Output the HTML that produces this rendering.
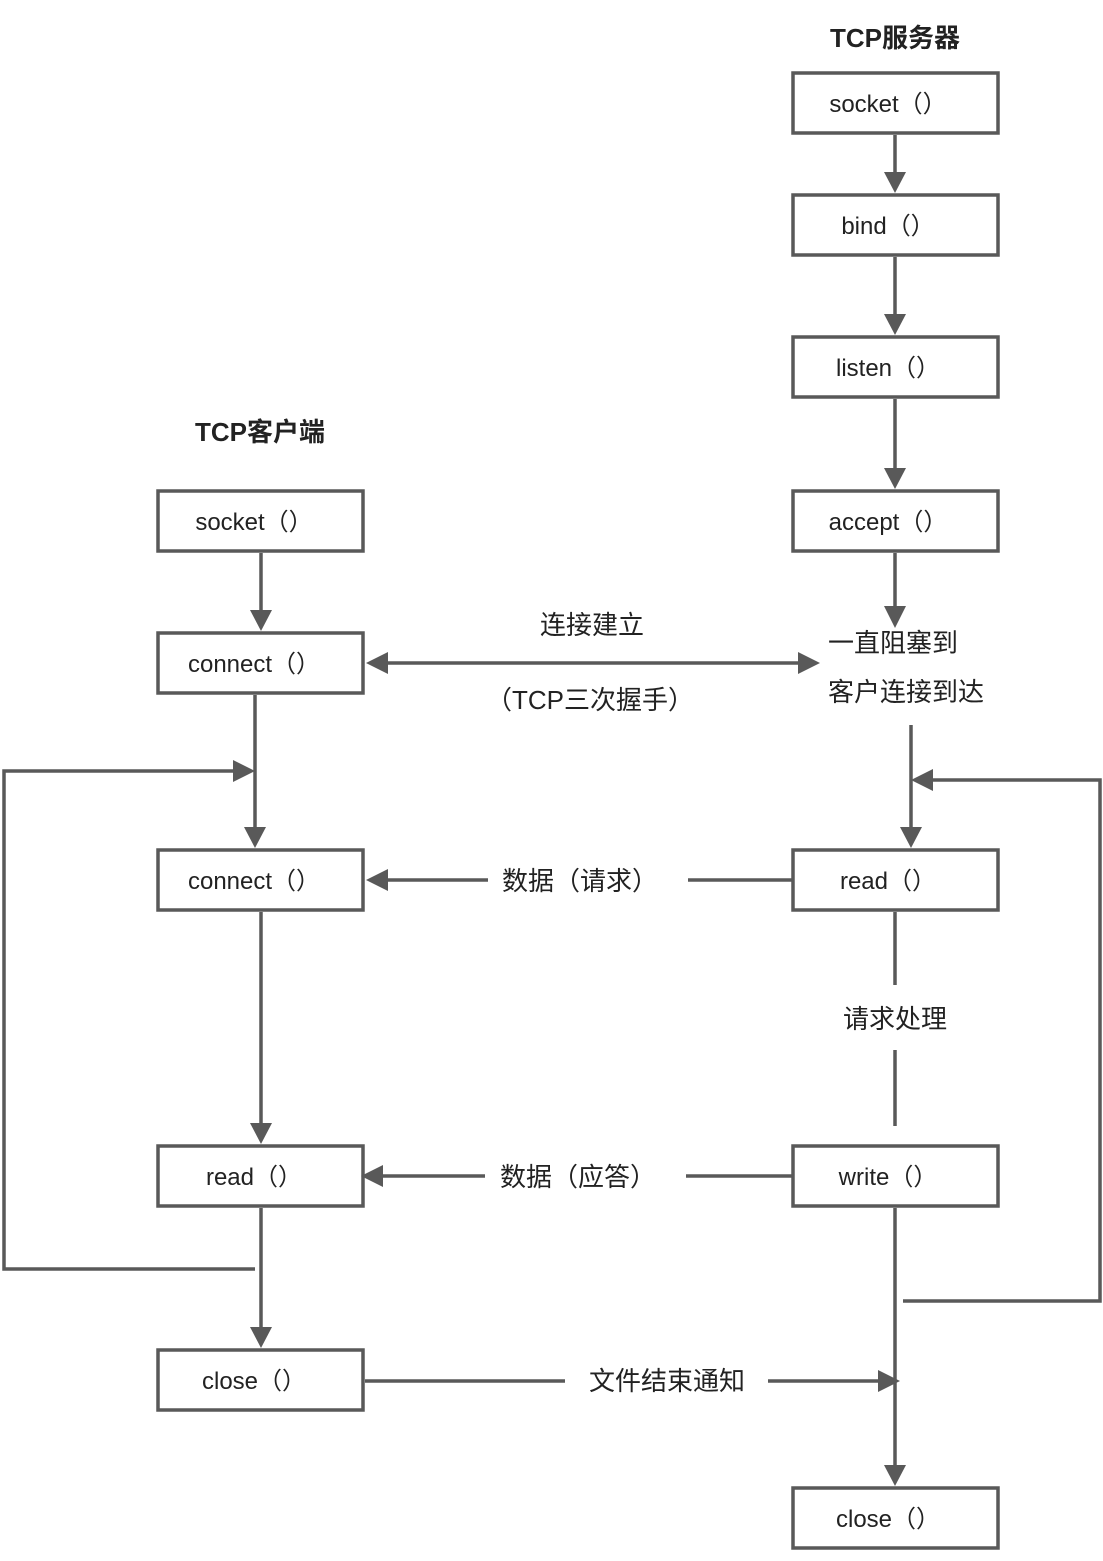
<!DOCTYPE html>
<html><head><meta charset="utf-8"><style>
body{margin:0;background:#fff}
svg text{font-family:"Liberation Sans","Noto Sans CJK SC",sans-serif;fill:#222}
</style></head><body>
<svg width="1103" height="1556" viewBox="0 0 1103 1556" xmlns="http://www.w3.org/2000/svg">
<defs>
<marker id="a" markerWidth="8" markerHeight="8" refX="7" refY="4" orient="auto" markerUnits="userSpaceOnUse" viewBox="0 0 8 8" style="overflow:visible">
<path d="M-14,-7 L7,4 L-14,15 Z" fill="#595959" transform="translate(0,0)"/>
</marker>
</defs>
<g fill="#fff" stroke="#595959" stroke-width="3.5">
<rect x="793" y="73" width="205" height="60"/>
<rect x="793" y="195" width="205" height="60"/>
<rect x="793" y="337" width="205" height="60"/>
<rect x="793" y="491" width="205" height="60"/>
<rect x="793" y="850" width="205" height="60"/>
<rect x="793" y="1146" width="205" height="60"/>
<rect x="793" y="1488" width="205" height="60"/>
<rect x="158" y="491" width="205" height="60"/>
<rect x="158" y="633" width="205" height="60"/>
<rect x="158" y="850" width="205" height="60"/>
<rect x="158" y="1146" width="205" height="60"/>
<rect x="158" y="1350" width="205" height="60"/>
</g>
<g stroke="#595959" stroke-width="3.5" fill="none">
<path d="M895 135V175M895 257V317M895 399V471M895 553V608M911 725V830M895 1208V1468M261 553V613M255 695V830M261 912V1126M261 1208V1330"/>
<path d="M903 1301H1100V780H931"/>
<path d="M255 1269H4V771H235"/>
<path d="M385 663H800"/>
<path d="M793 880H688M488 880H385"/>
<path d="M793 1176H686M485 1176H380"/>
<path d="M895 912V985M895 1050V1126"/>
<path d="M365 1381H565M768 1381H880"/>
</g>
<g fill="#595959">
<path d="M884 172L906 172L895 193Z"/>
<path d="M884 314L906 314L895 335Z"/>
<path d="M884 468L906 468L895 489Z"/>
<path d="M884 606L906 606L895 628Z"/>
<path d="M900 827L922 827L911 848Z"/>
<path d="M884 1465L906 1465L895 1486Z"/>
<path d="M250 610L272 610L261 631Z"/>
<path d="M244 827L266 827L255 848Z"/>
<path d="M250 1123L272 1123L261 1144Z"/>
<path d="M250 1327L272 1327L261 1348Z"/>
<path d="M911 780L933 769L933 791Z"/>
<path d="M255 771L233 760L233 782Z"/>
<path d="M366 663L388 652L388 674Z"/>
<path d="M820 663L798 652L798 674Z"/>
<path d="M366 880L388 869L388 891Z"/>
<path d="M361 1176L383 1165L383 1187Z"/>
<path d="M900 1381L878 1370L878 1392Z"/>
</g>
<g font-size="24" text-anchor="middle">
<text x="888" y="112">socket（）</text>
<text x="888" y="234">bind（）</text>
<text x="888" y="376">listen（）</text>
<text x="888" y="530">accept（）</text>
<text x="888" y="889">read（）</text>
<text x="888" y="1185">write（）</text>
<text x="888" y="1527">close（）</text>
<text x="254" y="530">socket（）</text>
<text x="254" y="672">connect（）</text>
<text x="254" y="889">connect（）</text>
<text x="254" y="1185">read（）</text>
<text x="254" y="1389">close（）</text>
<text x="592" y="634" font-size="26">连接建立</text>
<text x="590" y="709" font-size="26">（TCP三次握手）</text>
<text x="580" y="890" font-size="26">数据（请求）</text>
<text x="578" y="1186" font-size="26">数据（应答）</text>
<text x="895" y="1028" font-size="26">请求处理</text>
<text x="667" y="1390" font-size="26">文件结束通知</text>
<text x="895" y="47" font-weight="bold" font-size="26">TCP服务器</text>
<text x="260" y="441" font-weight="bold" font-size="26">TCP客户端</text>
</g>
<g font-size="26">
<text x="828" y="652">一直阻塞到</text>
<text x="828" y="701">客户连接到达</text>
</g>
</svg>
</body></html>
